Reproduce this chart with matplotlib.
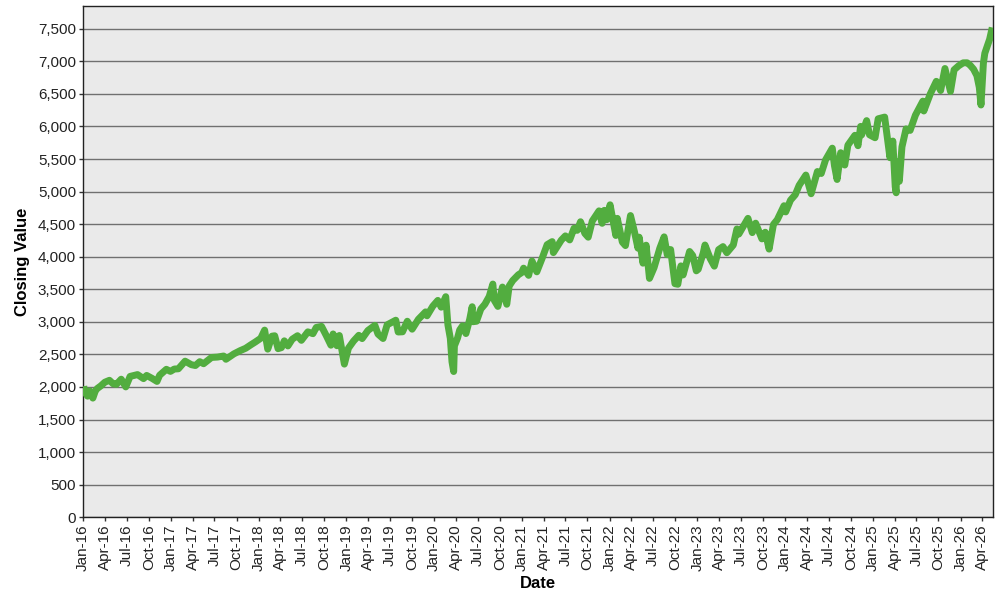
#importing the libraries
import datetime as dt
import matplotlib
matplotlib.use("Agg")
import matplotlib.pyplot as plt
import matplotlib.dates as mdates
from matplotlib.ticker import FuncFormatter

plt.rcParams['font.family'] = ['Liberation Sans', 'DejaVu Sans']

#closing values, year by year
dates_2016 = ["2016-01-04", "2016-01-08", "2016-01-20", "2016-01-29", "2016-02-11", "2016-02-22",
              "2016-03-01", "2016-03-15", "2016-04-01", "2016-04-20", "2016-05-05", "2016-05-19",
              "2016-06-08", "2016-06-27", "2016-07-15", "2016-08-15", "2016-09-09", "2016-09-22",
              "2016-10-14", "2016-11-04", "2016-11-15", "2016-12-13", "2016-12-30"]
close_2016 = [2012, 1922, 1859, 1940, 1829, 1946,
              1978, 2016, 2073, 2102, 2050, 2040,
              2119, 2001, 2162, 2190, 2128, 2177,
              2133, 2085, 2180, 2271, 2239]

dates_2017 = ["2017-01-15", "2017-02-01", "2017-03-01", "2017-03-27", "2017-04-13", "2017-05-01",
              "2017-05-17", "2017-06-19", "2017-07-14", "2017-08-08", "2017-08-18", "2017-09-20",
              "2017-10-16", "2017-11-08", "2017-11-30", "2017-12-18"]
close_2017 = [2275, 2279, 2396, 2342, 2329, 2388,
              2357, 2453, 2459, 2475, 2425, 2508,
              2557, 2594, 2648, 2690]

dates_2018 = ["2018-01-10", "2018-01-26", "2018-02-08", "2018-02-26", "2018-03-09", "2018-03-23",
              "2018-04-06", "2018-04-18", "2018-05-03", "2018-05-21", "2018-06-12", "2018-06-28",
              "2018-07-25", "2018-08-15", "2018-08-29", "2018-09-20", "2018-10-10", "2018-10-29",
              "2018-11-07", "2018-11-23", "2018-12-03", "2018-12-24"]
close_2018 = [2748, 2873, 2581, 2780, 2786, 2588,
              2604, 2708, 2630, 2733, 2787, 2716,
              2846, 2818, 2914, 2930, 2786, 2641,
              2814, 2633, 2790, 2351]

dates_2019 = ["2019-01-10", "2019-01-31", "2019-02-22", "2019-03-08", "2019-04-01", "2019-04-30",
              "2019-05-13", "2019-06-03", "2019-06-20", "2019-07-26", "2019-08-05", "2019-08-23",
              "2019-09-12", "2019-10-02", "2019-10-28", "2019-11-27", "2019-12-03", "2019-12-27"]
close_2019 = [2596, 2704, 2793, 2743, 2867, 2946,
              2812, 2744, 2954, 3025, 2844, 2847,
              3009, 2887, 3039, 3153, 3093, 3240]

dates_2020 = ["2020-01-17", "2020-01-31", "2020-02-19", "2020-02-28", "2020-03-09", "2020-03-16",
              "2020-03-23", "2020-03-26", "2020-04-08", "2020-04-17", "2020-04-29", "2020-05-13",
              "2020-05-29", "2020-06-08", "2020-06-11", "2020-06-26", "2020-07-14", "2020-07-31",
              "2020-08-18", "2020-09-02", "2020-09-08", "2020-09-23", "2020-10-12", "2020-10-30",
              "2020-11-09", "2020-11-24", "2020-12-17", "2020-12-31"]
close_2020 = [3329, 3225, 3386, 2954, 2746, 2386,
              2237, 2630, 2750, 2875, 2939, 2820,
              3044, 3232, 3002, 3009, 3197, 3271,
              3390, 3580, 3331, 3237, 3534, 3270,
              3550, 3635, 3722, 3756]

dates_2021 = ["2021-01-08", "2021-01-29", "2021-02-12", "2021-03-04", "2021-03-26", "2021-04-16",
              "2021-05-07", "2021-05-12", "2021-06-14", "2021-07-01", "2021-07-19", "2021-08-06",
              "2021-08-19", "2021-09-02", "2021-09-20", "2021-10-04", "2021-10-21", "2021-11-18",
              "2021-12-01", "2021-12-10", "2021-12-20"]
close_2021 = [3824, 3714, 3934, 3768, 3974, 4185,
              4232, 4063, 4255, 4320, 4258, 4437,
              4405, 4537, 4358, 4300, 4549, 4704,
              4513, 4712, 4568]

dates_2022 = ["2022-01-03", "2022-01-27", "2022-02-02", "2022-02-23", "2022-03-08", "2022-03-29",
              "2022-04-14", "2022-04-29", "2022-05-04", "2022-05-20", "2022-06-02", "2022-06-16",
              "2022-07-05", "2022-07-29", "2022-08-16", "2022-08-29", "2022-09-12", "2022-09-30",
              "2022-10-12", "2022-10-25", "2022-11-03", "2022-11-30", "2022-12-13", "2022-12-28"]
close_2022 = [4797, 4326, 4589, 4225, 4171, 4632,
              4392, 4132, 4300, 3901, 4177, 3667,
              3831, 4130, 4305, 4030, 4110, 3586,
              3577, 3859, 3720, 4080, 4019, 3783]

dates_2023 = ["2023-01-05", "2023-01-26", "2023-02-02", "2023-02-24", "2023-03-13", "2023-03-31",
              "2023-04-18", "2023-05-04", "2023-05-31", "2023-06-15", "2023-06-23", "2023-07-31",
              "2023-08-18", "2023-09-01", "2023-09-27", "2023-10-11", "2023-10-27", "2023-11-14",
              "2023-11-30", "2023-12-28"]
close_2023 = [3808, 4060, 4180, 3970, 3855, 4109,
              4155, 4061, 4180, 4426, 4348, 4589,
              4370, 4515, 4274, 4376, 4117, 4495,
              4568, 4783]

dates_2024 = ["2024-01-04", "2024-01-24", "2024-02-13", "2024-02-29", "2024-03-28", "2024-04-19",
              "2024-05-15", "2024-05-31", "2024-06-18", "2024-07-16", "2024-07-25", "2024-08-05",
              "2024-08-20", "2024-09-06", "2024-09-19", "2024-10-18", "2024-10-31", "2024-11-11",
              "2024-11-15", "2024-12-06", "2024-12-18"]
close_2024 = [4688, 4868, 4953, 5096, 5254, 4967,
              5308, 5278, 5487, 5667, 5399, 5186,
              5597, 5408, 5713, 5864, 5705, 6001,
              5870, 6090, 5872]

dates_2025 = ["2025-01-10", "2025-01-23", "2025-02-19", "2025-03-13", "2025-03-25", "2025-04-04",
              "2025-04-08", "2025-04-09", "2025-04-21", "2025-05-02", "2025-05-19", "2025-06-05",
              "2025-06-27", "2025-07-28", "2025-08-01", "2025-08-28", "2025-09-22", "2025-10-10",
              "2025-10-28", "2025-11-20", "2025-12-05", "2025-12-24"]
close_2025 = [5827, 6118, 6144, 5521, 5776, 5074,
              4982, 5456, 5158, 5686, 5963, 5940,
              6173, 6389, 6238, 6501, 6693, 6552,
              6890, 6538, 6870, 6932]

dates_2026 = ["2026-01-12", "2026-01-28", "2026-02-10", "2026-02-24", "2026-03-10", "2026-03-20",
              "2026-03-27", "2026-04-06", "2026-04-12", "2026-04-22", "2026-05-02", "2026-05-13"]
close_2026 = [6977, 6978, 6940, 6880, 6780, 6600,
              6330, 6970, 7125, 7230, 7340, 7520]

#y axis ticks
y_ticks = list(range(0, 7501, 500))


#main function
def main():
    #joining the yearly pieces
    all_dates = (dates_2016 + dates_2017 + dates_2018 + dates_2019 + dates_2020 + dates_2021
                 + dates_2022 + dates_2023 + dates_2024 + dates_2025 + dates_2026)
    all_close = (close_2016 + close_2017 + close_2018 + close_2019 + close_2020 + close_2021
                 + close_2022 + close_2023 + close_2024 + close_2025 + close_2026)
    x = [dt.datetime.strptime(d, "%Y-%m-%d") for d in all_dates]

    fig = plt.figure(figsize=(10, 6), dpi=100)
    ax = fig.add_axes([0.083, 0.138, 0.91, 0.852])
    ax.set_facecolor("#EAEAEA")

    #thick green closing line
    ax.plot(x, all_close, color="#52AD3F", linewidth=5, solid_joinstyle="round",
            solid_capstyle="butt", zorder=3)

    #axis limits and ticks
    ax.set_xlim(dt.datetime(2016, 1, 1), dt.datetime(2026, 5, 16))
    ax.set_ylim(0, 7850)
    ax.set_yticks(y_ticks)
    ax.yaxis.set_major_formatter(FuncFormatter(lambda v, p: f"{int(v):,}"))
    ax.xaxis.set_major_locator(mdates.MonthLocator(bymonth=[1, 4, 7, 10]))
    ax.xaxis.set_major_formatter(mdates.DateFormatter("%b-%y"))
    plt.setp(ax.get_xticklabels(), rotation=90)

    ax.tick_params(axis="both", labelsize=11, length=3, width=1, pad=2, color="#333333",
                   labelcolor="#222222")
    ax.grid(axis="y", color="#707070", linewidth=1.0, zorder=1)
    ax.set_axisbelow(True)

    for s in ax.spines.values():
        s.set_color("#222222")
        s.set_linewidth(1.0)

    ax.set_xlabel("Date", fontsize=12, fontweight="bold", labelpad=4)
    ax.set_ylabel("Closing Value", fontsize=12, fontweight="bold", labelpad=6)

    fig.savefig("out.png", dpi=100)


if __name__ == "__main__":
    main()
